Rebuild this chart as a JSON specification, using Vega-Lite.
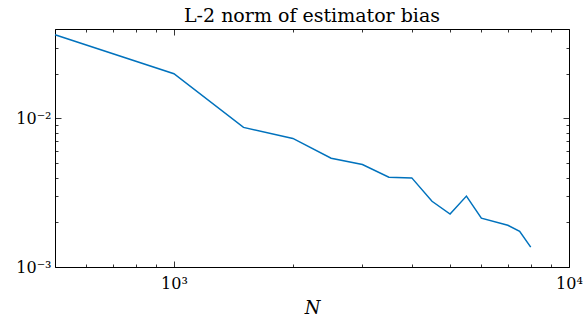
{
  "$schema": "https://vega.github.io/schema/vega-lite/v6.json",
  "width": 514,
  "height": 238,
  "autosize": {"type": "none"},
  "padding": {"left": 55, "top": 29, "right": 15, "bottom": 55},
  "config": {
    "view": {"stroke": "black", "strokeWidth": 1},
    "font": "DejaVu Serif",
    "axis": {
      "grid": false,
      "domain": false,
      "tickColor": "black",
      "tickWidth": 0.8,
      "labelColor": "black",
      "labelFont": "DejaVu Serif",
      "labelFontSize": 16,
      "labelOverlap": false,
      "labelFlush": false,
      "titleFont": "DejaVu Serif",
      "titleFontSize": 18,
      "titleFontWeight": "normal",
      "titleColor": "black"
    }
  },
  "title": {
    "text": "L-2 norm of estimator bias",
    "fontSize": 19,
    "fontWeight": "normal",
    "font": "DejaVu Serif",
    "color": "black",
    "offset": -5
  },
  "data": {
    "values": [
      {"N": 500, "bias": 0.0366},
      {"N": 1000, "bias": 0.0200},
      {"N": 1500, "bias": 0.0087},
      {"N": 2000, "bias": 0.00734},
      {"N": 2500, "bias": 0.0054},
      {"N": 3000, "bias": 0.0049},
      {"N": 3500, "bias": 0.00402},
      {"N": 4000, "bias": 0.00398},
      {"N": 4500, "bias": 0.00277},
      {"N": 5000, "bias": 0.00227},
      {"N": 5500, "bias": 0.0030},
      {"N": 6000, "bias": 0.00213},
      {"N": 7000, "bias": 0.00191},
      {"N": 7500, "bias": 0.00174},
      {"N": 8000, "bias": 0.00136}
    ]
  },
  "layer": [
    {
      "mark": {"type": "line", "color": "#0072BD", "strokeWidth": 1.5},
      "encoding": {
        "x": {
          "field": "N", "type": "quantitative",
          "scale": {"type": "log", "domain": [500, 10000]},
          "axis": {
            "orient": "bottom",
            "values": [500, 600, 700, 800, 900, 1000, 2000, 3000, 4000, 5000, 6000, 7000, 8000, 9000, 10000],
            "labelExpr": "datum.value == 1000 ? '10³' : datum.value == 10000 ? '10⁴' : ''",
            "tickSize": {"condition": {"test": "datum.value == 1000 || datum.value == 10000", "value": -6}, "value": -3},
            "labelPadding": 14,
            "title": "N",
            "titleFontStyle": "italic",
            "titlePadding": 5
          }
        },
        "y": {
          "field": "bias", "type": "quantitative",
          "scale": {"type": "log", "domain": [0.001, 0.04]},
          "axis": {
            "orient": "left",
            "values": [0.001, 0.002, 0.003, 0.004, 0.005, 0.006, 0.007, 0.008, 0.009, 0.01, 0.02, 0.03, 0.04],
            "labelExpr": "datum.value == 0.01 ? '10⁻²' : datum.value == 0.001 ? '10⁻³' : ''",
            "tickSize": {"condition": {"test": "datum.value == 0.01 || datum.value == 0.001", "value": -6}, "value": -3},
            "labelPadding": 10,
            "title": null
          }
        }
      }
    },
    {
      "mark": {"type": "line", "opacity": 0},
      "encoding": {
        "x": {
          "field": "N", "type": "quantitative",
          "scale": {"type": "log", "domain": [500, 10000]},
          "axis": {
            "orient": "top",
            "values": [500, 600, 700, 800, 900, 1000, 2000, 3000, 4000, 5000, 6000, 7000, 8000, 9000, 10000],
            "labels": false,
            "tickSize": {"condition": {"test": "datum.value == 1000 || datum.value == 10000", "value": -6}, "value": -3},
            "title": null
          }
        },
        "y": {
          "field": "bias", "type": "quantitative",
          "scale": {"type": "log", "domain": [0.001, 0.04]},
          "axis": {
            "orient": "right",
            "values": [0.001, 0.002, 0.003, 0.004, 0.005, 0.006, 0.007, 0.008, 0.009, 0.01, 0.02, 0.03, 0.04],
            "labels": false,
            "tickSize": {"condition": {"test": "datum.value == 0.01 || datum.value == 0.001", "value": -6}, "value": -3},
            "title": null
          }
        }
      }
    }
  ],
  "resolve": {"axis": {"x": "independent", "y": "independent"}}
}
